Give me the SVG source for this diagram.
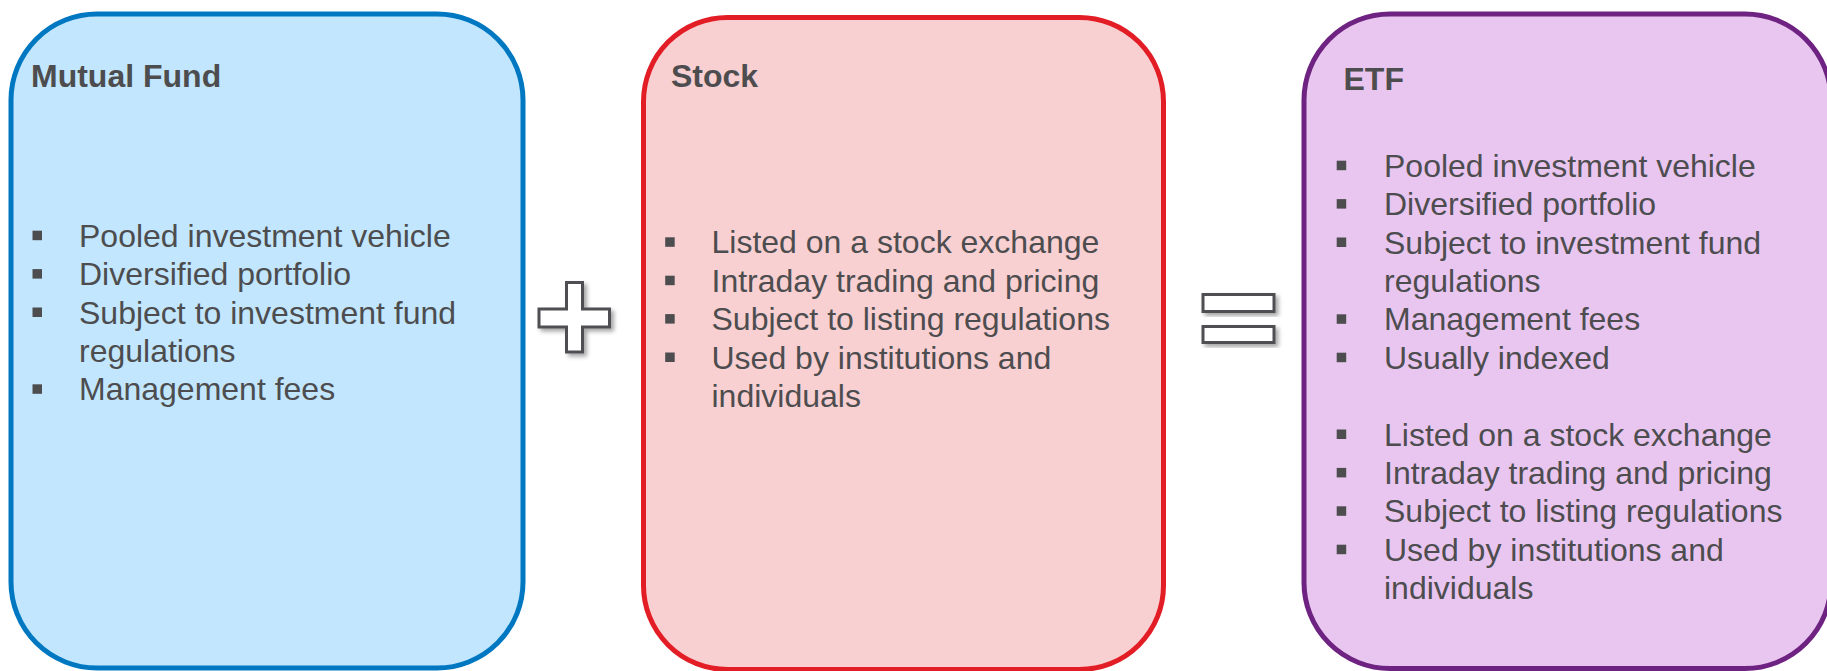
<svg xmlns="http://www.w3.org/2000/svg" width="1827" height="671" viewBox="0 0 1827 671">
  <style>
    .box { stroke-width: 5; }
    .mf { fill: #C2E6FD; stroke: #0078C1; }
    .st { fill: #F8D0D2; stroke: #E31D25; }
    .etf { fill: #E9C6EF; stroke: #6E2281; }
    .title { font-family: "Liberation Sans", Arial, sans-serif; font-size: 32px; font-weight: bold; fill: #4D4D4F; }
    .item { font-family: "Liberation Sans", Arial, sans-serif; font-size: 32px; fill: #4D4D4F; }
    .bul { fill: #4D4D4F; }
    .op { fill: #FFFFFF; stroke: #4F4F53; stroke-width: 3; stroke-linejoin: miter; filter: url(#shadow); }
  </style>
  <defs>
    <filter id="shadow" x="-20%" y="-20%" width="150%" height="150%">
      <feDropShadow dx="3" dy="3" stdDeviation="2" flood-color="#000000" flood-opacity="0.35"/>
    </filter>
  </defs>

  <rect width="1827" height="671" fill="#FFFFFF"/>

  <!-- Mutual Fund -->
  <g id="mutual-fund">
    <rect class="box mf" x="11" y="14" width="512" height="654" rx="86" ry="86"/>
    <text class="title" x="31" y="87.3">Mutual Fund</text>
    <g class="bul">
      <rect x="32.5" y="230.7" width="9.5" height="9.5"/>
      <rect x="32.5" y="269.1" width="9.5" height="9.5"/>
      <rect x="32.5" y="307.5" width="9.5" height="9.5"/>
      <rect x="32.5" y="384.3" width="9.5" height="9.5"/>
    </g>
    <text class="item" x="79" y="246.7">Pooled investment vehicle</text>
    <text class="item" x="79" y="285.1">Diversified portfolio</text>
    <text class="item" x="79" y="323.5">Subject to investment fund</text>
    <text class="item" x="79" y="361.9">regulations</text>
    <text class="item" x="79" y="400.3">Management fees</text>
  </g>

  <!-- Stock -->
  <g id="stock">
    <rect class="box st" x="643.5" y="17.5" width="520" height="652" rx="84" ry="84"/>
    <text class="title" x="671" y="87.3">Stock</text>
    <g class="bul">
      <rect x="665.2" y="237.3" width="9.5" height="9.5"/>
      <rect x="665.2" y="275.7" width="9.5" height="9.5"/>
      <rect x="665.2" y="314.1" width="9.5" height="9.5"/>
      <rect x="665.2" y="352.5" width="9.5" height="9.5"/>
    </g>
    <text class="item" x="711.5" y="253.3">Listed on a stock exchange</text>
    <text class="item" x="711.5" y="291.7">Intraday trading and pricing</text>
    <text class="item" x="711.5" y="330.1">Subject to listing regulations</text>
    <text class="item" x="711.5" y="368.5">Used by institutions and</text>
    <text class="item" x="711.5" y="406.9">individuals</text>
  </g>

  <!-- ETF -->
  <g id="etf">
    <rect class="box etf" x="1304" y="14" width="527" height="654.5" rx="86" ry="86"/>
    <text class="title" x="1343.5" y="90">ETF</text>
    <g class="bul">
      <rect x="1336.7" y="160.7" width="9.5" height="9.5"/>
      <rect x="1336.7" y="199.1" width="9.5" height="9.5"/>
      <rect x="1336.7" y="237.5" width="9.5" height="9.5"/>
      <rect x="1336.7" y="314.3" width="9.5" height="9.5"/>
      <rect x="1336.7" y="352.7" width="9.5" height="9.5"/>
      <rect x="1336.7" y="429.5" width="9.5" height="9.5"/>
      <rect x="1336.7" y="467.9" width="9.5" height="9.5"/>
      <rect x="1336.7" y="506.3" width="9.5" height="9.5"/>
      <rect x="1336.7" y="544.7" width="9.5" height="9.5"/>
    </g>
    <text class="item" x="1384" y="176.7">Pooled investment vehicle</text>
    <text class="item" x="1384" y="215.1">Diversified portfolio</text>
    <text class="item" x="1384" y="253.5">Subject to investment fund</text>
    <text class="item" x="1384" y="291.9">regulations</text>
    <text class="item" x="1384" y="330.3">Management fees</text>
    <text class="item" x="1384" y="368.7">Usually indexed</text>
    <text class="item" x="1384" y="445.5">Listed on a stock exchange</text>
    <text class="item" x="1384" y="483.9">Intraday trading and pricing</text>
    <text class="item" x="1384" y="522.3">Subject to listing regulations</text>
    <text class="item" x="1384" y="560.7">Used by institutions and</text>
    <text class="item" x="1384" y="599.1">individuals</text>
  </g>

  <!-- Plus and equals signs between the boxes -->
  <g id="connectors">
    <g id="plus">
      <path class="op" d="M566.5,282.5 H582.5 V309 H609.5 V327 H582.5 V352 H566.5 V327 H539 V309 H566.5 Z"/>
    </g>
    <g id="equals">
      <rect class="op" x="1203" y="294.5" width="71" height="17"/>
      <rect class="op" x="1203" y="326.5" width="71" height="16"/>
    </g>
  </g>
</svg>
